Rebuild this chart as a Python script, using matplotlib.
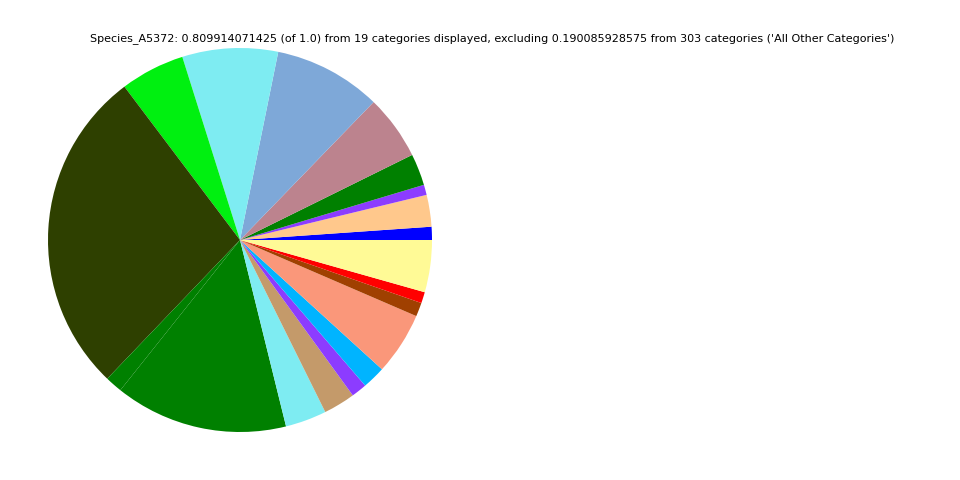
import matplotlib
matplotlib.use("Agg")
import matplotlib.pyplot as plt

title = ("Species_A5372: 0.809914071425 (of 1.0) from 19 categories displayed, "
         "excluding 0.190085928575 from 303 categories ('All Other Categories')")

values = [0.00895, 0.02164, 0.00697, 0.0216, 0.0441, 0.0733, 0.0652, 0.0439,
          0.2232, 0.0117, 0.1179, 0.0281, 0.0216, 0.0106, 0.0157, 0.0427,
          0.0094, 0.0076, 0.0355]
colors = ['#0000ff', '#ffc88c', '#8c3cff', '#008000', '#bc838e', '#7ea8d8',
          '#7eecf2', '#00f010', '#2e4000', '#008000', '#008000', '#7eecf2',
          '#c49a6a', '#8c3cff', '#00b4ff', '#fa977a', '#a04000', '#ff0000',
          '#fffa96']

fig = plt.figure(figsize=(9.6, 4.8), dpi=100)
ax = fig.add_axes([0.05, 0.1, 0.4, 0.8])
ax.pie(values, colors=colors, startangle=0, counterclock=True,
       wedgeprops={'linewidth': 0})
ax.set_xlim(-1, 1)
ax.set_ylim(-1, 1)
ax.set_aspect('equal')
ax.axis('off')

fig.text(0.513, 1 - 39 / 480, title, ha='center', va='center', fontsize=8)

fig.savefig('out.png', dpi=100)
